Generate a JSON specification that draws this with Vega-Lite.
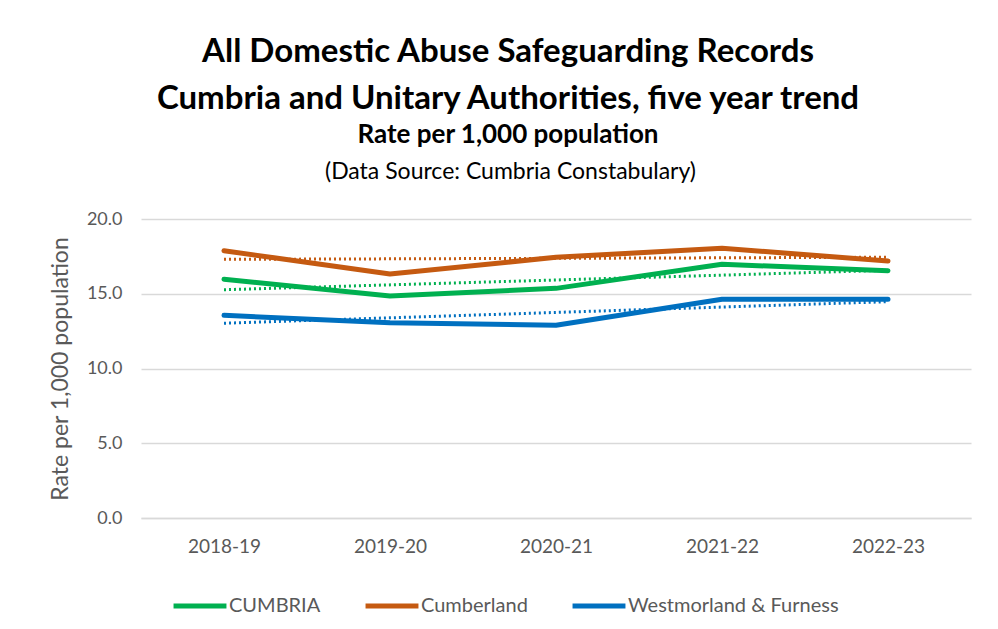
{
  "$schema": "https://vega.github.io/schema/vega-lite/v6.json",
  "width": 830,
  "height": 299,
  "autosize": "none",
  "padding": {"left": 141, "top": 219, "right": 27, "bottom": 111},
  "background": "white",
  "title": {
    "text": ["All Domestic Abuse Safeguarding Records", "Cumbria and Unitary Authorities, five year trend"],
    "subtitle": "Rate per 1,000 population",
    "anchor": "middle",
    "frame": "group",
    "dx": -48,
    "font": "Lato",
    "fontSize": 33,
    "fontWeight": "bold",
    "color": "#000000",
    "lineHeight": 47,
    "subtitleFont": "Lato",
    "subtitleFontSize": 26,
    "subtitleFontWeight": "bold",
    "subtitleColor": "#000000",
    "subtitlePadding": 6,
    "offset": 12
  },
  "data": {
    "values": [
      {"year": "2018-19", "series": "CUMBRIA", "kind": "actual", "value": 15.97},
      {"year": "2019-20", "series": "CUMBRIA", "kind": "actual", "value": 14.85},
      {"year": "2020-21", "series": "CUMBRIA", "kind": "actual", "value": 15.36},
      {"year": "2021-22", "series": "CUMBRIA", "kind": "actual", "value": 16.97},
      {"year": "2022-23", "series": "CUMBRIA", "kind": "actual", "value": 16.54},
      {"year": "2018-19", "series": "Cumberland", "kind": "actual", "value": 17.88},
      {"year": "2019-20", "series": "Cumberland", "kind": "actual", "value": 16.32},
      {"year": "2020-21", "series": "Cumberland", "kind": "actual", "value": 17.44},
      {"year": "2021-22", "series": "Cumberland", "kind": "actual", "value": 18.04},
      {"year": "2022-23", "series": "Cumberland", "kind": "actual", "value": 17.19},
      {"year": "2018-19", "series": "Westmorland & Furness", "kind": "actual", "value": 13.56},
      {"year": "2019-20", "series": "Westmorland & Furness", "kind": "actual", "value": 13.06},
      {"year": "2020-21", "series": "Westmorland & Furness", "kind": "actual", "value": 12.89},
      {"year": "2021-22", "series": "Westmorland & Furness", "kind": "actual", "value": 14.63},
      {"year": "2022-23", "series": "Westmorland & Furness", "kind": "actual", "value": 14.63},
      {"year": "2018-19", "series": "CUMBRIA", "kind": "trend", "value": 15.27},
      {"year": "2022-23", "series": "CUMBRIA", "kind": "trend", "value": 16.57},
      {"year": "2018-19", "series": "Cumberland", "kind": "trend", "value": 17.30},
      {"year": "2022-23", "series": "Cumberland", "kind": "trend", "value": 17.44},
      {"year": "2018-19", "series": "Westmorland & Furness", "kind": "trend", "value": 13.03},
      {"year": "2022-23", "series": "Westmorland & Furness", "kind": "trend", "value": 14.47}
    ]
  },
  "encoding": {
    "y": {
      "field": "value",
      "type": "quantitative",
      "scale": {"domain": [0, 20]},
      "axis": {
        "values": [0, 5, 10, 15, 20],
        "format": ".1f",
        "title": "Rate per 1,000 population",
        "titleFont": "Lato",
        "titleFontSize": 23,
        "titleFontWeight": "normal",
        "titleColor": "#595959",
        "titlePadding": 14,
        "labelFont": "Lato",
        "labelFontSize": 18,
        "labelColor": "#595959",
        "labelPadding": 19,
        "ticks": false,
        "domain": false,
        "grid": true,
        "gridColor": "#d9d9d9",
        "gridWidth": 1.5
      }
    },
    "color": {
      "field": "series",
      "type": "nominal",
      "scale": {
        "domain": ["CUMBRIA", "Cumberland", "Westmorland & Furness"],
        "range": ["#00B050", "#C55A11", "#0070C0"]
      },
      "legend": {
        "title": null,
        "orient": "none",
        "direction": "horizontal",
        "legendX": 30,
        "legendY": 358,
        "symbolType": "stroke",
        "symbolSize": 2800,
        "symbolStrokeWidth": 5,
        "symbolOffset": 0,
        "labelFont": "Lato",
        "labelFontSize": 20,
        "labelColor": "#595959",
        "labelOffset": 0,
        "labelLimit": 400,
        "columnPadding": 34
      }
    }
  },
  "layer": [
    {
      "transform": [{"filter": "datum.kind === 'trend'"}],
      "mark": {"type": "line", "strokeWidth": 3, "strokeDash": [2, 3]},
      "encoding": {
        "x": {
          "field": "year",
          "type": "ordinal",
          "sort": ["2018-19", "2019-20", "2020-21", "2021-22", "2022-23"],
          "scale": {"type": "point", "padding": 0.5, "domain": ["2018-19", "2019-20", "2020-21", "2021-22", "2022-23"]},
          "axis": {
            "title": null,
            "labelAngle": 0,
            "labelFont": "Lato",
            "labelFontSize": 19,
            "labelColor": "#595959",
            "labelPadding": 19,
            "ticks": false,
            "domain": true,
            "domainColor": "#d9d9d9",
            "domainWidth": 1.5
          }
        },
        "detail": {"field": "series"}
      }
    },
    {
      "transform": [{"filter": "datum.kind === 'actual'"}],
      "mark": {"type": "line", "strokeWidth": 5, "strokeCap": "round", "strokeJoin": "round"},
      "encoding": {
        "x": {
          "field": "year",
          "type": "ordinal",
          "sort": ["2018-19", "2019-20", "2020-21", "2021-22", "2022-23"],
          "axis": {
            "orient": "top",
            "labels": false,
            "ticks": false,
            "domain": false,
            "title": "(Data Source: Cumbria Constabulary)",
            "titleFont": "Lato",
            "titleFontSize": 23,
            "titleFontWeight": "normal",
            "titleColor": "#000000",
            "titleX": 369,
            "titlePadding": 36
          }
        }
      }
    }
  ],
  "resolve": {"axis": {"x": "independent"}},
  "config": {
    "view": {"stroke": null}
  }
}
